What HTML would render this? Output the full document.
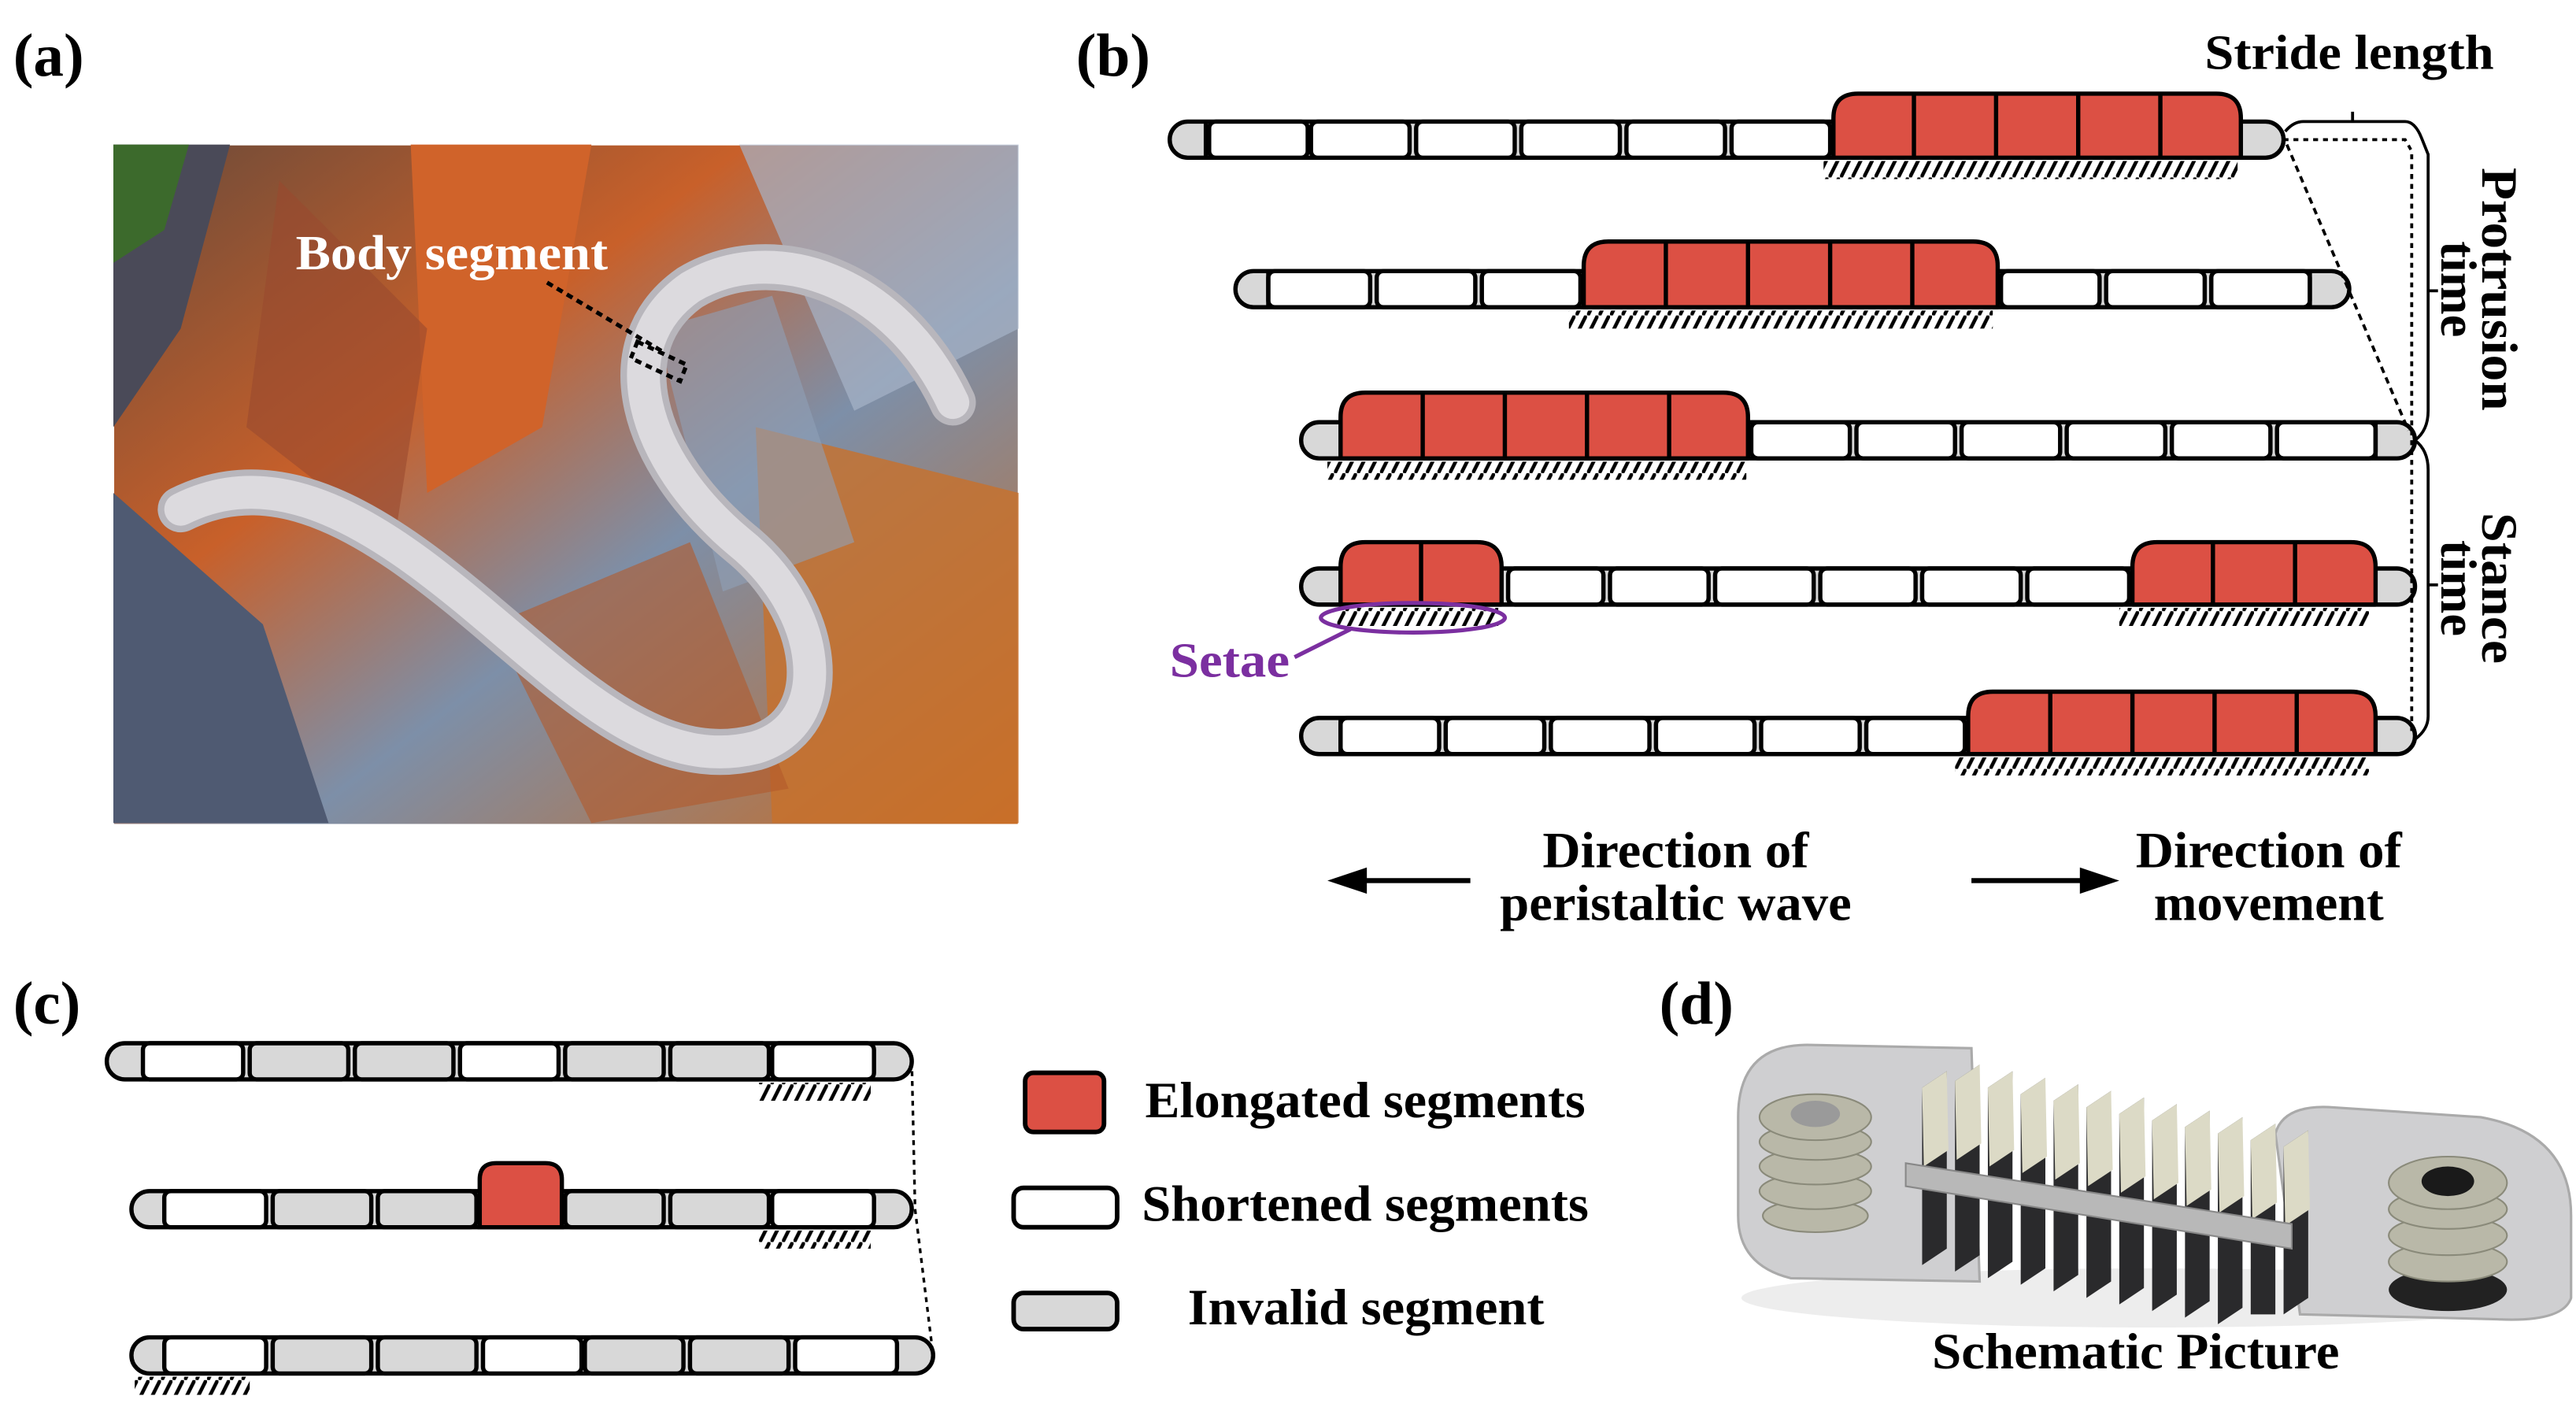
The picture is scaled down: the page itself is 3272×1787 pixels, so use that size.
<!DOCTYPE html>
<html><head><meta charset="utf-8"><style>html,body{margin:0;padding:0;background:#fff}svg{display:block}</style></head>
<body>
<svg width="3272" height="1787" viewBox="0 0 1568 856.4" preserveAspectRatio="none" xmlns="http://www.w3.org/2000/svg" font-family="'Liberation Serif', serif" font-weight="bold">
<defs>
<pattern id="h" patternUnits="userSpaceOnUse" width="7" height="12"><line x1="0.5" y1="12" x2="6.5" y2="0" stroke="#000" stroke-width="2.2"/></pattern>
<linearGradient id="bg1" x1="0" y1="0" x2="1" y2="1"><stop offset="0" stop-color="#6a4a3a"/><stop offset="0.35" stop-color="#c8602a"/><stop offset="0.6" stop-color="#7d8fa8"/><stop offset="1" stop-color="#c86a22"/></linearGradient>
</defs>
<rect width="1568" height="857" fill="#fff"/>
<!-- (a) -->
<text x="8" y="46" font-size="37">(a)</text>
<g>
<rect x="69.5" y="88.5" width="550" height="413" fill="url(#bg1)"/>
<path d="M69,88 L140,88 L110,200 L69,260 Z" fill="#4a4a58"/>
<path d="M69,88 L115,88 L100,140 L69,160 Z" fill="#3c6a2c"/>
<path d="M250,88 L360,88 L330,260 L260,300 Z" fill="#d0632a"/>
<path d="M69,300 L160,380 L200,501 L69,501 Z" fill="#4f5a72"/>
<path d="M170,110 L260,200 L240,330 L150,260 Z" fill="#9a4a2e" opacity="0.6"/>
<path d="M450,88 L620,88 L620,200 L520,250 Z" fill="#a6b4c8" opacity="0.7"/>
<path d="M460,260 L620,300 L620,501 L470,501 Z" fill="#c8702a" opacity="0.8"/>
<path d="M300,380 L420,330 L480,480 L360,501 Z" fill="#b35a2c" opacity="0.6"/>
<path d="M400,200 L470,180 L520,330 L440,360 Z" fill="#8fa0b8" opacity="0.6"/>
<path d="M110,310 C170,280 230,320 290,370 C350,420 400,470 460,455 C510,440 500,370 450,330 C390,280 370,210 420,175 C470,145 545,170 580,245" fill="none" stroke="#b8b6bc" stroke-width="28" stroke-linecap="round"/>
<path d="M110,310 C170,280 230,320 290,370 C350,420 400,470 460,455 C510,440 500,370 450,330 C390,280 370,210 420,175 C470,145 545,170 580,245" fill="none" stroke="#dcdade" stroke-width="20" stroke-linecap="round"/>
<text x="180" y="164" font-size="30" fill="#fff" textLength="190" lengthAdjust="spacingAndGlyphs">Body segment</text>
<line x1="333" y1="172" x2="405" y2="215" stroke="#000" stroke-width="2.5" stroke-dasharray="4,3"/>
<path d="M388,208 L418,222 L414,232 L384,218 Z" fill="none" stroke="#000" stroke-width="2.5" stroke-dasharray="4,3"/>
</g>

<!-- (b) -->
<text x="655" y="46" font-size="37">(b)</text>
<text x="1518" y="42" font-size="30" text-anchor="end" textLength="176" lengthAdjust="spacingAndGlyphs">Stride length</text>
<g stroke="#000" stroke-width="2.6" stroke-linejoin="round">
<rect x="712" y="74" width="678" height="22" rx="11" fill="#d8d8d8"/>
<line x1="734" y1="74" x2="734" y2="96"/>
<rect x="736" y="74" width="60" height="22" rx="4" fill="#fff"/><rect x="798" y="74" width="60" height="22" rx="4" fill="#fff"/><rect x="862" y="74" width="60" height="22" rx="4" fill="#fff"/><rect x="926" y="74" width="60" height="22" rx="4" fill="#fff"/><rect x="990" y="74" width="60" height="22" rx="4" fill="#fff"/><rect x="1054" y="74" width="60" height="22" rx="4" fill="#fff"/>
<path d="M1116,96 L1116,72 Q1116,57 1131,57 L1349,57 Q1364,57 1364,72 L1364,96 Z" fill="#dc5044"/>
<path d="M1165,57 V96 M1215,57 V96 M1265,57 V96 M1315,57 V96" fill="none"/>
<rect x="752" y="165" width="678" height="22" rx="11" fill="#d8d8d8"/>
<rect x="772" y="165" width="62" height="22" rx="4" fill="#fff"/><rect x="838" y="165" width="60" height="22" rx="4" fill="#fff"/><rect x="902" y="165" width="60" height="22" rx="4" fill="#fff"/>
<rect x="1218" y="165" width="60" height="22" rx="4" fill="#fff"/><rect x="1282" y="165" width="60" height="22" rx="4" fill="#fff"/><rect x="1346" y="165" width="60" height="22" rx="4" fill="#fff"/>
<path d="M964,187 L964,162 Q964,147 979,147 L1201,147 Q1216,147 1216,162 L1216,187 Z" fill="#dc5044"/>
<path d="M1014,147 V187 M1064,147 V187 M1114,147 V187 M1164,147 V187" fill="none"/>
<rect x="792" y="257" width="678" height="22" rx="11" fill="#d8d8d8"/>
<rect x="1066" y="257" width="60" height="22" rx="4" fill="#fff"/><rect x="1130" y="257" width="60" height="22" rx="4" fill="#fff"/><rect x="1194" y="257" width="60" height="22" rx="4" fill="#fff"/><rect x="1258" y="257" width="60" height="22" rx="4" fill="#fff"/><rect x="1322" y="257" width="60" height="22" rx="4" fill="#fff"/><rect x="1386" y="257" width="60" height="22" rx="4" fill="#fff"/>
<path d="M816,279 L816,254 Q816,239 831,239 L1049,239 Q1064,239 1064,254 L1064,279 Z" fill="#dc5044"/>
<path d="M866,239 V279 M916,239 V279 M966,239 V279 M1016,239 V279" fill="none"/>
<rect x="792" y="346" width="678" height="22" rx="11" fill="#d8d8d8"/>
<rect x="918" y="346" width="58" height="22" rx="4" fill="#fff"/><rect x="980" y="346" width="60" height="22" rx="4" fill="#fff"/><rect x="1044" y="346" width="60" height="22" rx="4" fill="#fff"/><rect x="1108" y="346" width="58" height="22" rx="4" fill="#fff"/><rect x="1170" y="346" width="60" height="22" rx="4" fill="#fff"/><rect x="1234" y="346" width="62" height="22" rx="4" fill="#fff"/>
<path d="M816,368 L816,345 Q816,330 831,330 L899,330 Q914,330 914,345 L914,368 Z" fill="#dc5044"/>
<path d="M865,330 V368" fill="none"/>
<path d="M1298,368 L1298,345 Q1298,330 1313,330 L1431,330 Q1446,330 1446,345 L1446,368 Z" fill="#dc5044"/>
<path d="M1347,330 V368 M1397,330 V368" fill="none"/>
<rect x="792" y="437" width="678" height="22" rx="11" fill="#d8d8d8"/>
<rect x="816" y="437" width="60" height="22" rx="4" fill="#fff"/><rect x="880" y="437" width="60" height="22" rx="4" fill="#fff"/><rect x="944" y="437" width="60" height="22" rx="4" fill="#fff"/><rect x="1008" y="437" width="60" height="22" rx="4" fill="#fff"/><rect x="1072" y="437" width="60" height="22" rx="4" fill="#fff"/><rect x="1136" y="437" width="60" height="22" rx="4" fill="#fff"/>
<path d="M1198,459 L1198,436 Q1198,421 1213,421 L1431,421 Q1446,421 1446,436 L1446,459 Z" fill="#dc5044"/>
<path d="M1248,421 V459 M1298,421 V459 M1348,421 V459 M1398,421 V459" fill="none"/>
<line x1="772" y1="165" x2="772" y2="187"/>
<line x1="1406" y1="165" x2="1406" y2="187"/>
<line x1="1446" y1="257" x2="1446" y2="279"/>
<line x1="816" y1="437" x2="816" y2="459"/>
</g>
<rect x="1110" y="98" width="252" height="11" fill="url(#h)"/>
<rect x="955" y="189" width="258" height="11" fill="url(#h)"/>
<rect x="808" y="281" width="255" height="11" fill="url(#h)"/>
<rect x="814" y="370" width="98" height="11" fill="url(#h)"/>
<rect x="1290" y="370" width="152" height="11" fill="url(#h)"/>
<rect x="1190" y="461" width="252" height="11" fill="url(#h)"/>
<ellipse cx="860" cy="376" rx="56" ry="9" fill="none" stroke="#7b2fa0" stroke-width="2.5"/>
<line x1="788" y1="400" x2="822" y2="383" stroke="#7b2fa0" stroke-width="2.5"/>
<text x="712" y="412" font-size="30" fill="#7b2fa0" textLength="73" lengthAdjust="spacingAndGlyphs">Setae</text>
<g fill="none" stroke="#000" stroke-width="1.8">
<path d="M1391,80 Q1396,74 1402,74 L1464,74 Q1470,74 1474,84 L1478,94 L1478,250 Q1478,262 1470,268 Q1478,274 1478,286 L1478,436 Q1478,444 1470,450"/>
<line x1="1432" y1="68" x2="1432" y2="74"/>
<line x1="1478" y1="177" x2="1484" y2="177"/>
<line x1="1478" y1="356" x2="1484" y2="356"/>
<path d="M1390,85 L1464,85 L1468,92 L1468,446" stroke-dasharray="3,3"/>
<line x1="1392" y1="88" x2="1466" y2="262" stroke-dasharray="4,3"/>
</g>
<text transform="translate(1522,176) rotate(90)" font-size="31" text-anchor="middle" dy="11" textLength="148" lengthAdjust="spacingAndGlyphs">Protrusion</text>
<text transform="translate(1497,176) rotate(90)" font-size="31" text-anchor="middle" dy="11">time</text>
<text transform="translate(1522,358) rotate(90)" font-size="31" text-anchor="middle" dy="11" textLength="92" lengthAdjust="spacingAndGlyphs">Stance</text>
<text transform="translate(1497,358) rotate(90)" font-size="31" text-anchor="middle" dy="11">time</text>
<line x1="830" y1="536" x2="895" y2="536" stroke="#000" stroke-width="3"/>
<path d="M808,536 L832,528 L832,544 Z"/>
<line x1="1200" y1="536" x2="1268" y2="536" stroke="#000" stroke-width="3"/>
<path d="M1290,536 L1266,528 L1266,544 Z"/>
<text x="1020" y="528" font-size="31" text-anchor="middle" textLength="162" lengthAdjust="spacingAndGlyphs">Direction of</text>
<text x="1020" y="560" font-size="31" text-anchor="middle" textLength="214" lengthAdjust="spacingAndGlyphs">peristaltic wave</text>
<text x="1381" y="528" font-size="31" text-anchor="middle" textLength="162" lengthAdjust="spacingAndGlyphs">Direction of</text>
<text x="1381" y="560" font-size="31" text-anchor="middle" textLength="140" lengthAdjust="spacingAndGlyphs">movement</text>

<!-- (c) -->
<text x="8" y="623" font-size="37">(c)</text>
<g stroke="#000" stroke-width="2.6">
<rect x="65" y="635" width="490" height="22" rx="11" fill="#d8d8d8"/>
<rect x="87" y="635" width="61" height="22" rx="4" fill="#fff"/><rect x="152" y="635" width="60" height="22" rx="4" fill="#d8d8d8"/><rect x="216" y="635" width="60" height="22" rx="4" fill="#d8d8d8"/><rect x="280" y="635" width="60" height="22" rx="4" fill="#fff"/><rect x="344" y="635" width="60" height="22" rx="4" fill="#d8d8d8"/><rect x="408" y="635" width="60" height="22" rx="4" fill="#d8d8d8"/><rect x="470" y="635" width="62" height="22" rx="4" fill="#fff"/>
<rect x="80" y="725" width="475" height="22" rx="11" fill="#d8d8d8"/>
<rect x="100" y="725" width="62" height="22" rx="4" fill="#fff"/><rect x="166" y="725" width="60" height="22" rx="4" fill="#d8d8d8"/><rect x="230" y="725" width="60" height="22" rx="4" fill="#d8d8d8"/><rect x="344" y="725" width="60" height="22" rx="4" fill="#d8d8d8"/><rect x="408" y="725" width="60" height="22" rx="4" fill="#d8d8d8"/><rect x="470" y="725" width="62" height="22" rx="4" fill="#fff"/>
<path d="M292,747 L292,718 Q292,708 302,708 L332,708 Q342,708 342,718 L342,747 Z" fill="#dc5044"/>
<rect x="80" y="814" width="488" height="22" rx="11" fill="#d8d8d8"/>
<rect x="100" y="814" width="62" height="22" rx="4" fill="#fff"/><rect x="166" y="814" width="60" height="22" rx="4" fill="#d8d8d8"/><rect x="230" y="814" width="60" height="22" rx="4" fill="#d8d8d8"/><rect x="294" y="814" width="60" height="22" rx="4" fill="#fff"/><rect x="356" y="814" width="60" height="22" rx="4" fill="#d8d8d8"/><rect x="420" y="814" width="60" height="22" rx="4" fill="#d8d8d8"/><rect x="484" y="814" width="62" height="22" rx="4" fill="#fff"/>
</g>
<rect x="462" y="659" width="68" height="11" fill="url(#h)"/>
<rect x="462" y="749" width="68" height="11" fill="url(#h)"/>
<rect x="82" y="838" width="70" height="11" fill="url(#h)"/>
<path d="M555,646 L557,736 L568,825" fill="none" stroke="#000" stroke-width="1.6" stroke-dasharray="3,3"/>
<g stroke="#000" stroke-width="2.8">
<rect x="624" y="653" width="48" height="36" rx="5" fill="#dc5044"/>
<rect x="617" y="723" width="63" height="24" rx="6" fill="#fff"/>
<rect x="617" y="787" width="63" height="22" rx="6" fill="#d8d8d8"/>
</g>
<text x="697" y="680" font-size="31" textLength="268" lengthAdjust="spacingAndGlyphs">Elongated segments</text>
<text x="695" y="743" font-size="31" textLength="272" lengthAdjust="spacingAndGlyphs">Shortened segments</text>
<text x="723" y="806" font-size="31" textLength="217" lengthAdjust="spacingAndGlyphs">Invalid segment</text>

<!-- (d) -->
<text x="1010" y="623" font-size="37">(d)</text>
<g>
<ellipse cx="1310" cy="790" rx="250" ry="18" fill="#e6e6e6" opacity="0.7"/>
<path d="M1058,680 Q1058,636 1100,636 L1200,638 L1205,780 L1090,778 Q1058,770 1058,740 Z" fill="#cfcfd1" stroke="#aaa" stroke-width="1.5"/>
<path d="M1385,690 Q1390,672 1420,674 L1510,680 Q1565,690 1565,740 L1565,790 Q1560,805 1520,803 L1400,800 Z" fill="#cfcfd1" stroke="#aaa" stroke-width="1.5"/>
<g fill="#b9b8a8" stroke="#8a8a7a" stroke-width="1">
<ellipse cx="1105" cy="740" rx="32" ry="10"/><ellipse cx="1105" cy="725" rx="34" ry="11"/><ellipse cx="1105" cy="710" rx="34" ry="11"/><ellipse cx="1105" cy="695" rx="34" ry="11"/><ellipse cx="1105" cy="680" rx="34" ry="14"/>
</g>
<ellipse cx="1105" cy="678" rx="15" ry="8" fill="#9a9a9a"/>
<ellipse cx="1490" cy="785" rx="36" ry="13" fill="#222"/>
<g fill="#b9b8a8" stroke="#8a8a7a" stroke-width="1">
<ellipse cx="1490" cy="768" rx="36" ry="12"/><ellipse cx="1490" cy="752" rx="36" ry="12"/><ellipse cx="1490" cy="736" rx="36" ry="12"/><ellipse cx="1490" cy="720" rx="36" ry="16"/>
</g>
<ellipse cx="1490" cy="719" rx="16" ry="9" fill="#1a1a1a"/>
<g>
<path d="M1170,662 L1185,652 L1185,760 L1170,770 Z M1190,658 L1205,648 L1205,764 L1190,774 Z M1210,662 L1225,652 L1225,768 L1210,778 Z M1230,666 L1245,656 L1245,772 L1230,782 Z M1250,670 L1265,660 L1265,776 L1250,786 Z M1270,674 L1285,664 L1285,780 L1270,790 Z M1290,678 L1305,668 L1305,784 L1290,794 Z M1310,682 L1325,672 L1325,788 L1310,798 Z M1330,686 L1345,676 L1345,792 L1330,802 Z M1350,690 L1365,680 L1365,796 L1350,806 Z M1370,694 L1385,684 L1385,800 L1370,800 Z M1390,698 L1405,688 L1405,790 L1390,800 Z" fill="#2a2a2c"/>
<path d="M1170,662 L1185,652 L1186,700 L1171,710 Z M1190,658 L1205,648 L1206,696 L1191,706 Z M1210,662 L1225,652 L1226,700 L1211,710 Z M1230,666 L1245,656 L1246,704 L1231,714 Z M1250,670 L1265,660 L1266,708 L1251,718 Z M1270,674 L1285,664 L1286,712 L1271,722 Z M1290,678 L1305,668 L1306,716 L1291,726 Z M1310,682 L1325,672 L1326,720 L1311,730 Z M1330,686 L1345,676 L1346,724 L1331,734 Z M1350,690 L1365,680 L1366,728 L1351,738 Z M1370,694 L1385,684 L1386,732 L1371,742 Z M1390,698 L1405,688 L1406,736 L1391,746 Z" fill="#dcdac6"/>
</g>
<path d="M1160,708 L1395,745 L1395,760 L1160,722 Z" fill="#b8b8b8" stroke="#888" stroke-width="1"/>
</g>
<text x="1300" y="833" font-size="31" text-anchor="middle" textLength="248" lengthAdjust="spacingAndGlyphs">Schematic Picture</text>
</svg>
</body></html>
